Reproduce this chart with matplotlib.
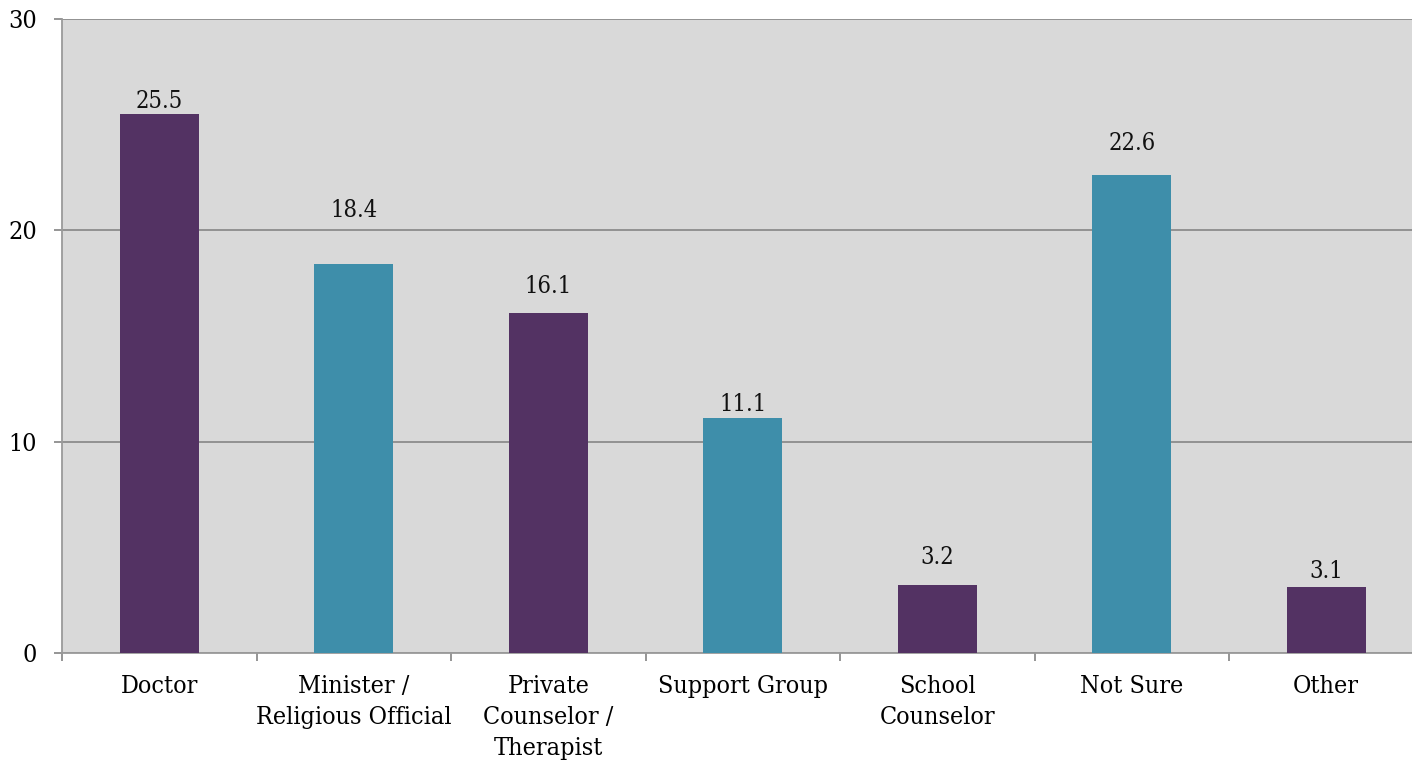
import numpy as np
import matplotlib.pyplot as plt

categories = ['Doctor', 'Minister /\nReligious Official', 'Private\nCounselor /\nTherapist',
              'Support Group', 'School\nCounselor', 'Not Sure', 'Other']
values = [25.5, 18.4, 16.1, 11.1, 3.2, 22.6, 3.1]
yticks = [0, 10, 20, 30]

# label centre heights above bar tops (pixels), as placed in the original
label_offsets = [13, 54, 26, 14, 28, 32, 16]

PURPLE = '#533263'
TEAL = '#3E8EAA'
colors = [PURPLE if i % 2 == 0 else TEAL for i in range(len(values))]

plt.rcParams['font.family'] = ['DejaVu Serif']
plt.rcParams['font.stretch'] = 'condensed'

fig = plt.figure(figsize=(14.12, 7.63), dpi=100)
ax = fig.add_axes([62/1412, 110/763, 1361.5/1412, 634/763])
ax.set_facecolor('#D9D9D9')

x = np.arange(len(values))
ax.bar(x, values, width=0.405, color=colors, zorder=3)

for xi, v, off in zip(x, values, label_offsets):
    ax.annotate(f'{v}', (xi, v), xytext=(0, off * 0.72), textcoords='offset points',
                ha='center', va='center', fontsize=17, color='#111111', zorder=4)

ax.set_xlim(-0.5, len(values) - 0.5)
ax.set_ylim(0, 30)
ax.set_yticks(yticks)
ax.set_yticklabels([str(t) for t in yticks], fontsize=18)
ax.yaxis.grid(True, color='#8C8C8C', linewidth=1.3, zorder=1)

ax.set_xticks(x)
ax.set_xticklabels(categories, fontsize=18, linespacing=1.45, va='top')
ax.set_xticks(np.arange(-0.5, len(values)), minor=True)
ax.tick_params(axis='x', which='major', length=0, pad=16)
ax.tick_params(axis='x', which='minor', length=6, width=1.3, color='#8C8C8C')
ax.tick_params(axis='y', length=6, width=1.3, color='#8C8C8C', pad=12)

for s in ['top', 'right']:
    ax.spines[s].set_visible(False)
for s in ['left', 'bottom']:
    ax.spines[s].set_color('#9A9A9A')
    ax.spines[s].set_linewidth(1.3)

fig.savefig('out.png', dpi=100)
